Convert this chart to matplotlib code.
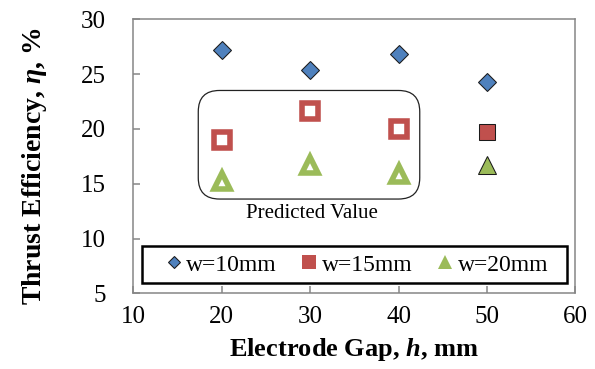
"""
Thrust efficiency vs electrode gap for three electrode widths.
Hollow markers inside the rounded box are predicted values.
"""

import matplotlib
matplotlib.use("Agg")
import matplotlib.pyplot as plt
from matplotlib.lines import Line2D
from matplotlib.patches import FancyBboxPatch, Rectangle


# Data
gap_mm = [20, 30, 40, 50]
eff_w10 = [27.2, 25.4, 26.8, 24.25]
eff_w15 = [19.0, 21.65, 20.0, 19.7]
eff_w20 = [15.2, 16.7, 15.9, 16.7]
n_predicted = 3  # first three gaps of w=15/20 are predicted values
series_labels = ["w=10mm", "w=15mm", "w=20mm"]

BLUE = "#4F81BD"
RED = "#C0504D"
GREEN = "#9BBB59"
EDGE = "#1a1a1a"
SPINE = "#868686"

plt.rcParams["font.family"] = ["Liberation Serif", "DejaVu Serif"]
plt.rcParams["mathtext.fontset"] = "custom"
plt.rcParams["mathtext.it"] = "Liberation Serif:bold:italic"
plt.rcParams["mathtext.rm"] = "Liberation Serif:bold"


def main() -> None:
    fig = plt.figure(figsize=(5.95, 3.69), dpi=100)
    ax = fig.add_axes([0.224, 0.205, 0.743, 0.743])

    # w=10mm: all measured
    ax.plot(gap_mm, eff_w10, linestyle="none", marker="D", ms=9.5,
            mfc=BLUE, mec=EDGE, mew=0.75, zorder=4)

    # predicted (hollow, thick edge)
    ax.plot(gap_mm[:n_predicted], eff_w15[:n_predicted], linestyle="none",
            marker="s", ms=11, mfc="white", mec=RED, mew=4, zorder=4)
    ax.plot(gap_mm[:n_predicted], eff_w20[:n_predicted], linestyle="none",
            marker="^", ms=12, mfc="white", mec=GREEN, mew=4, zorder=4)

    # measured
    ax.plot(gap_mm[n_predicted:], eff_w15[n_predicted:], linestyle="none",
            marker="s", ms=12, mfc=RED, mec=EDGE, mew=0.75, zorder=4)
    ax.plot(gap_mm[n_predicted:], eff_w20[n_predicted:], linestyle="none",
            marker="^", ms=13, mfc=GREEN, mec=EDGE, mew=0.75, zorder=4)

    ax.set_xlim(10, 60)
    ax.set_ylim(5, 30)
    ax.set_xticks(range(10, 61, 10))
    ax.set_yticks(range(5, 31, 5))

    for side in ax.spines.values():
        side.set_color(SPINE)
        side.set_linewidth(1.1)
    ax.tick_params(axis="both", direction="in", length=5, width=1.1,
                   color=SPINE, labelsize=18)
    ax.tick_params(axis="x", pad=9)
    ax.tick_params(axis="y", pad=20)

    ax.set_xlabel("Electrode Gap, $h$, mm", fontsize=19, fontweight="bold",
                  labelpad=6)
    ax.set_ylabel(r"Thrust Efficiency, $\eta$, %", fontsize=20,
                  fontweight="bold")
    ax.yaxis.set_label_coords(-0.19, 0.463)

    # rounded box around predicted values
    fig.canvas.draw()
    bb = ax.get_window_extent()
    aspect = (bb.width / 50) / (bb.height / 25)
    box = FancyBboxPatch((17.35, 13.6), 42.4 - 17.35, 23.5 - 13.6,
                         boxstyle="round,pad=0,rounding_size=2.4",
                         mutation_aspect=aspect, fill=False,
                         edgecolor="#222222", linewidth=0.9, zorder=3)
    ax.add_patch(box)
    ax.text(30.2, 12.25, "Predicted Value", ha="center", va="center",
            fontsize=15)

    # legend: frameless entries + a separate wide frame
    handles = [
        Line2D([], [], linestyle="none", marker="D", ms=6.5, mfc=BLUE,
               mec=EDGE, mew=0.75),
        Line2D([], [], linestyle="none", marker="s", ms=10, mfc=RED,
               mec=RED, mew=0),
        Line2D([], [], linestyle="none", marker="^", ms=10.5, mfc=GREEN,
               mec=GREEN, mew=0),
    ]
    ax.legend(handles, series_labels, loc="center",
              bbox_to_anchor=(0.507, 0.104), ncol=3, fontsize=17,
              frameon=False, borderaxespad=0, borderpad=0,
              handlelength=0.6, handletextpad=0.24, columnspacing=1.07)
    ax.add_patch(Rectangle((0.019, 0.036), 0.961, 0.137,
                           transform=ax.transAxes, fill=True,
                           facecolor="white", edgecolor="black",
                           linewidth=1.8, zorder=4.5))
    ax.get_legend().set_zorder(5)

    fig.savefig("out.png", dpi=100)
    plt.close(fig)


if __name__ == "__main__":
    main()
